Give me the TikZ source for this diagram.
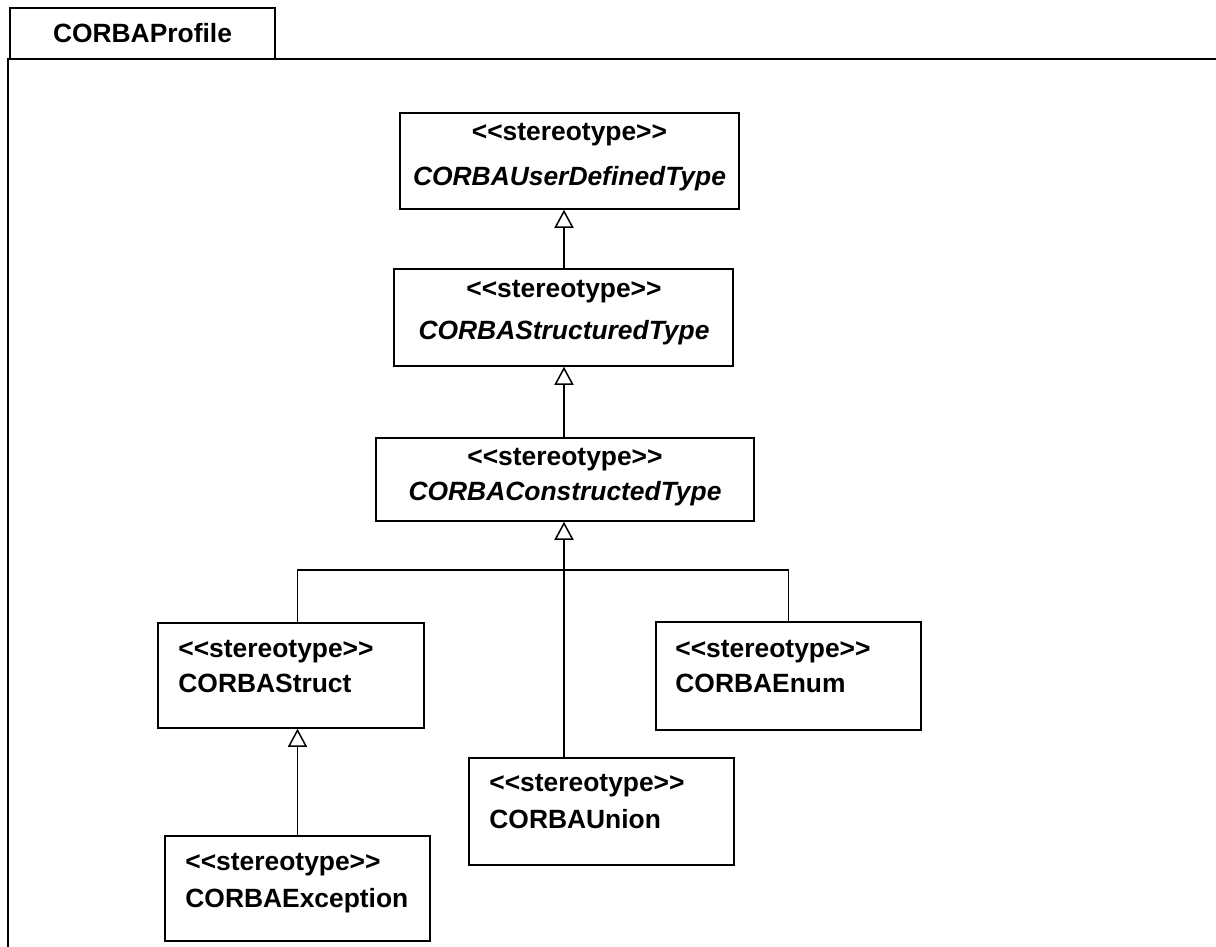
\documentclass[tikz,border=0pt]{standalone}
\usepackage{fontspec}
\setmainfont{Liberation Sans}
\usetikzlibrary{arrows.meta}
\newcommand\sttype{<\kern0pt<stereotype>\kern0pt>}
\begin{document}
\begin{tikzpicture}[x=0.5pt,y=-0.5pt,
    klass/.style={draw,line width=0.75pt,rectangle,inner sep=0pt},
    lbl/.style={inner sep=0pt,align=left,font=\fontsize{13.2}{19}\selectfont\bfseries},
    gen/.style={line width=0.75pt,-{Triangle[open,length=9pt,width=9.5pt,fill=white]}}]
    \tikzstyle{tabbox}=[draw,line width=1pt,rectangle,inner sep=0pt,font=\fontsize{13.2}{19}\selectfont\bfseries]
    \useasboundingbox (0,0) rectangle (1216,947);

    % package frame
    \node[tabbox,minimum width=132.5pt,minimum height=25.5pt] (tab) at (142.5,33.5) {CORBAProfile};
    \draw[line width=1pt] (1216,59) -- (8,59) -- (8,947);

    % abstract stereotypes
    \node[klass,minimum width=169.5pt,minimum height=48pt] (udt) at (569.5,161) {};
    \node[lbl,anchor=north,align=center] (udt-t) at (569.5,120) {\rule{0pt}{10pt}\sttype\\[3.5pt]\textit{CORBAUserDefinedType}};
    \node[klass,minimum width=169.5pt,minimum height=48.5pt] (sdt) at (563.5,317.5) {};
    \node[lbl,anchor=north,align=center] (sdt-t) at (564,277) {\rule{0pt}{10pt}\sttype\\[2pt]\textit{CORBAStructuredType}};
    \node[klass,minimum width=189pt,minimum height=41.5pt] (cdt) at (565,479.5) {};
    \node[lbl,anchor=north,align=center] (cdt-t) at (565,445) {\rule{0pt}{10pt}\sttype\\[-1.5pt]\textit{CORBAConstructedType}};

    % concrete stereotypes
    \node[klass,minimum width=133pt,minimum height=52.5pt] (strct) at (291,675.5) {};
    \node[lbl,anchor=north west] (strct-t) at (178,637) {\rule{0pt}{10pt}\sttype\\[-1.5pt]CORBAStruct};
    \node[klass,minimum width=132.5pt,minimum height=54pt] (enm) at (788.5,676) {};
    \node[lbl,anchor=north west] (enm-t) at (675,637) {\rule{0pt}{10pt}\sttype\\[-1.5pt]CORBAEnum};
    \node[klass,minimum width=132.5pt,minimum height=53.5pt] (unn) at (601.5,811.5) {};
    \node[lbl,anchor=north west] (unn-t) at (489,771) {\rule{0pt}{10pt}\sttype\\[-0.5pt]CORBAUnion};
    \node[klass,minimum width=132.5pt,minimum height=52.5pt] (exc) at (297.5,888.5) {};
    \node[lbl,anchor=north west] (exc-t) at (185,850) {\rule{0pt}{10pt}\sttype\\[-0.5pt]CORBAException};

    % generalizations
    \coordinate (spine) at (564,0);
    \coordinate (bar) at (0,570);
    \draw[gen] (sdt.north -| spine) -- (udt.south -| spine);
    \draw[gen] (cdt.north -| spine) -- (sdt.south -| spine);
    \draw[gen] (unn.north -| spine) -- (cdt.south -| spine);
    \draw[line width=0.75pt] (strct.north -| exc.north) -- (bar -| exc.north) -- (bar -| enm.north) -- (enm.north);
    \draw[gen] (exc.north) -- (strct.south -| exc.north);

\end{tikzpicture}
\end{document}
